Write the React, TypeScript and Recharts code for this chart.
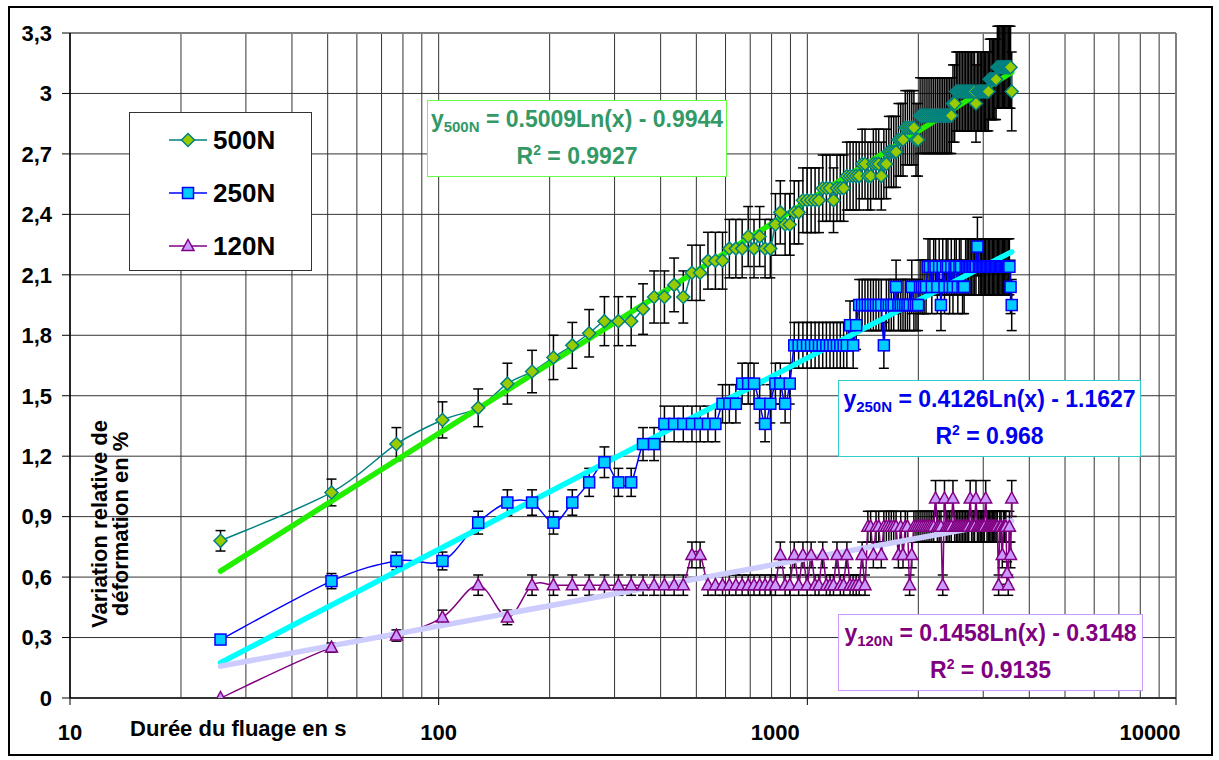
import { CartesianGrid, ErrorBar, Legend, Line, LineChart, ReferenceLine, XAxis, YAxis } from "recharts"

// creep time (s), one reading every 25.6 s
const TIME_S = [
  25.6, 51.2, 76.8, 102.4, 128, 153.6, 179.2, 204.8, 230.4, 256,
  281.6, 307.2, 332.8, 358.4, 384, 409.6, 435.2, 460.8, 486.4, 512,
  537.6, 563.2, 588.8, 614.4, 640, 665.6, 691.2, 716.8, 742.4, 768,
  793.6, 819.2, 844.8, 870.4, 896, 921.6, 947.2, 972.8, 998.4, 1024,
  1049.6, 1075.2, 1100.8, 1126.4, 1152, 1177.6, 1203.2, 1228.8, 1254.4, 1280,
  1305.6, 1331.2, 1356.8, 1382.4, 1408, 1433.6, 1459.2, 1484.8, 1510.4, 1536,
  1561.6, 1587.2, 1612.8, 1638.4, 1664, 1689.6, 1715.2, 1740.8, 1766.4, 1792,
  1817.6, 1843.2, 1868.8, 1894.4, 1920, 1945.6, 1971.2, 1996.8, 2022.4, 2048,
  2073.6, 2099.2, 2124.8, 2150.4, 2176, 2201.6, 2227.2, 2252.8, 2278.4, 2304,
  2329.6, 2355.2, 2380.8, 2406.4, 2432, 2457.6, 2483.2, 2508.8, 2534.4, 2560,
  2585.6, 2611.2, 2636.8, 2662.4, 2688, 2713.6, 2739.2, 2764.8, 2790.4, 2816,
  2841.6, 2867.2, 2892.8, 2918.4, 2944, 2969.6, 2995.2, 3020.8, 3046.4, 3072,
  3097.6, 3123.2, 3148.8, 3174.4, 3200, 3225.6, 3251.2, 3276.8, 3302.4, 3328,
  3353.6, 3379.2, 3404.8, 3430.4, 3456, 3481.6, 3507.2, 3532.8, 3558.4, 3584,
]

const DEF_500N = [
  0.78, 1.02, 1.26, 1.38, 1.44, 1.56, 1.62, 1.69, 1.75, 1.81,
  1.87, 1.87, 1.87, 1.93, 1.99, 1.99, 2.05, 1.99, 2.11, 2.11,
  2.17, 2.17, 2.17, 2.23, 2.23, 2.23, 2.29, 2.23, 2.29, 2.23,
  2.23, 2.35, 2.41, 2.35, 2.35, 2.41, 2.41, 2.47, 2.47, 2.47,
  2.47, 2.47, 2.53, 2.53, 2.53, 2.47, 2.53, 2.53, 2.53, 2.59,
  2.59, 2.59, 2.59, 2.59, 2.65, 2.65, 2.59, 2.59, 2.65, 2.65,
  2.65, 2.59, 2.65, 2.65, 2.71, 2.71, 2.71, 2.71, 2.77, 2.77,
  2.77, 2.83, 2.83, 2.83, 2.83, 2.83, 2.77, 2.77, 2.89, 2.89,
  2.89, 2.89, 2.89, 2.89, 2.89, 2.89, 2.89, 2.89, 2.89, 2.89,
  2.89, 2.89, 2.89, 2.89, 2.89, 2.89, 2.95, 2.95, 3.01, 3.01,
  3.01, 3.01, 3.01, 3.01, 3.01, 3.01, 3.01, 3.01, 3.01, 3.01,
  3.01, 2.95, 3.01, 3.01, 3.01, 3.01, 3.01, 3.01, 3.01, 3.01,
  3.01, 3.07, 3.07, 3.07, 3.07, 3.07, 3.07, 3.13, 3.13, 3.13,
  3.13, 3.13, 3.13, 3.13, 3.13, 3.13, 3.13, 3.13, 3.13, 3.01,
]

const DEF_250N = [
  0.29, 0.58, 0.68, 0.68, 0.87, 0.97, 0.97, 0.87, 0.97, 1.07,
  1.17, 1.07, 1.07, 1.26, 1.26, 1.36, 1.36, 1.36, 1.36, 1.36,
  1.36, 1.36, 1.46, 1.46, 1.46, 1.56, 1.56, 1.56, 1.46, 1.36,
  1.46, 1.56, 1.56, 1.46, 1.56, 1.75, 1.75, 1.75, 1.75, 1.75,
  1.75, 1.75, 1.75, 1.75, 1.75, 1.75, 1.75, 1.75, 1.75, 1.75,
  1.85, 1.75, 1.85, 1.95, 1.95, 1.95, 1.95, 1.95, 1.95, 1.95,
  1.95, 1.95, 1.75, 1.95, 1.95, 1.95, 1.95, 2.04, 1.95, 1.95,
  1.95, 1.95, 1.95, 1.95, 2.04, 1.95, 1.95, 1.95, 2.04, 2.04,
  2.04, 2.04, 2.14, 2.14, 2.04, 2.14, 2.14, 2.04, 2.14, 1.95,
  2.14, 2.04, 2.14, 2.14, 2.04, 2.14, 2.04, 2.14, 2.14, 2.04,
  2.14, 2.14, 2.04, 2.04, 2.14, 2.14, 2.14, 2.14, 2.14, 2.14,
  2.14, 2.14, 2.24, 2.14, 2.14, 2.14, 2.14, 2.14, 2.14, 2.14,
  2.14, 2.14, 2.14, 2.14, 2.14, 2.14, 2.14, 2.14, 2.14, 2.14,
  2.14, 2.14, 2.14, 2.14, 2.14, 2.14, 2.14, 2.14, 2.04, 1.95,
]

const DEF_120N = [
  0, 0.25, 0.31, 0.4, 0.56, 0.4, 0.56, 0.56, 0.56, 0.56,
  0.56, 0.56, 0.56, 0.56, 0.56, 0.56, 0.56, 0.56, 0.71, 0.71,
  0.56, 0.56, 0.56, 0.56, 0.56, 0.56, 0.56, 0.56, 0.56, 0.56,
  0.56, 0.56, 0.71, 0.56, 0.56, 0.71, 0.56, 0.71, 0.56, 0.71,
  0.56, 0.56, 0.71, 0.56, 0.56, 0.56, 0.71, 0.56, 0.56, 0.71,
  0.56, 0.56, 0.56, 0.56, 0.71, 0.56, 0.85, 0.85, 0.71, 0.85,
  0.85, 0.71, 0.85, 0.85, 0.85, 0.85, 0.85, 0.85, 0.71, 0.85,
  0.71, 0.85, 0.85, 0.56, 0.71, 0.85, 0.85, 0.85, 0.85, 0.85,
  0.85, 0.85, 0.85, 0.85, 0.85, 0.85, 0.99, 0.85, 0.85, 0.85,
  0.56, 0.99, 0.85, 0.85, 0.85, 0.85, 0.99, 0.85, 0.85, 0.85,
  0.85, 0.85, 0.85, 0.85, 0.85, 0.85, 0.85, 0.99, 0.85, 0.85,
  0.85, 0.99, 0.85, 0.85, 0.85, 0.85, 0.85, 0.85, 0.99, 0.85,
  0.85, 0.85, 0.85, 0.85, 0.85, 0.85, 0.85, 0.85, 0.56, 0.85,
  0.85, 0.71, 0.85, 0.85, 0.85, 0.62, 0.56, 0.85, 0.71, 0.99,
]

// error bars are a percentage of the value (Excel "percentage" error bars)
const ERR_PCT_500N = 0.065
const ERR_PCT_250N = 0.065
const ERR_PCT_120N = 0.09

// logarithmic trend lines: y = a Ln(x) + b
const TREND_A = [0.5009, 0.4126, 0.1458]
const TREND_B = [-0.9944, -1.1627, -0.3148]
const TREND_R2 = ["0.9927", "0.968", "0.9135"]
const LOADS = ["500N", "250N", "120N"]

const Y_TICKS = [0, 0.3, 0.6, 0.9, 1.2, 1.5, 1.8, 2.1, 2.4, 2.7, 3, 3.3]
const X_TICKS = [10, 100, 1000, 10000]
const X_GRID = [
  10, 20, 30, 40, 50, 60, 70, 80, 90,
  100, 200, 300, 400, 500, 600, 700, 800, 900,
  1000, 2000, 3000, 4000, 5000, 6000, 7000, 8000, 9000, 10000,
]

const FONT = '"Liberation Sans", Arial, Helvetica, sans-serif'

const rows = TIME_S.map((t, i) => ({
  t,
  n500: DEF_500N[i],
  n250: DEF_250N[i],
  n120: DEF_120N[i],
  e500: DEF_500N[i] * ERR_PCT_500N,
  e250: DEF_250N[i] * ERR_PCT_250N,
  e120: DEF_120N[i] * ERR_PCT_120N,
}))

const trendRows = (i: number) =>
  [TIME_S[0], TIME_S[TIME_S.length - 1]].map((t) => ({ t, y: TREND_A[i] * Math.log(t) + TREND_B[i] }))

const STYLE = [
  { key: "n500", err: "e500", line: "#008080", fill: "#99cc00", shape: "diamond", trend: "#22ee00", box: "#66ff44", text: "#339966" },
  { key: "n250", err: "e250", line: "#0000ff", fill: "#00ccff", shape: "square", trend: "#00ffff", box: "#33cccc", text: "#0000ee" },
  { key: "n120", err: "e120", line: "#800080", fill: "#cc99ff", shape: "triangle", trend: "#ccccff", box: "#cc99ff", text: "#800080" },
]

// Excel "smoothed line" ~ uniform Catmull-Rom
function excelSmooth(context: any) {
  let pts: number[][] = []
  return {
    areaStart() {},
    areaEnd() {},
    lineStart() {
      pts = []
    },
    lineEnd() {
      if (!pts.length) return
      context.moveTo(pts[0][0], pts[0][1])
      for (let i = 0; i < pts.length - 1; i++) {
        const p0 = pts[Math.max(i - 1, 0)]
        const p1 = pts[i]
        const p2 = pts[i + 1]
        const p3 = pts[Math.min(i + 2, pts.length - 1)]
        context.bezierCurveTo(
          p1[0] + (p2[0] - p0[0]) / 6,
          p1[1] + (p2[1] - p0[1]) / 6,
          p2[0] - (p3[0] - p1[0]) / 6,
          p2[1] - (p3[1] - p1[1]) / 6,
          p2[0],
          p2[1],
        )
      }
    },
    point(x: number, y: number) {
      pts.push([+x, +y])
    },
  }
}

function marker(shape: string, cx: number, cy: number, fill: string, stroke: string, key?: string) {
  if (shape === "diamond") {
    return <path key={key} d={`M${cx},${cy - 6.5}L${cx + 6.5},${cy}L${cx},${cy + 6.5}L${cx - 6.5},${cy}Z`} fill={fill} stroke={stroke} strokeWidth={1.5} />
  }
  if (shape === "square") {
    return <rect key={key} x={cx - 5.5} y={cy - 5.5} width={11} height={11} fill={fill} stroke={stroke} strokeWidth={1.5} />
  }
  return <path key={key} d={`M${cx},${cy - 6.5}L${cx + 6},${cy + 4.5}L${cx - 6},${cy + 4.5}Z`} fill={fill} stroke={stroke} strokeWidth={1.5} />
}

const dotFor = (s: (typeof STYLE)[number]) => (p: any) => {
  if (p.cx == null || p.cy == null) return <g key={`${s.key}-${p.index}`} />
  return marker(s.shape, p.cx, p.cy, s.fill, s.line, `${s.key}-${p.index}`)
}

const fmtY = (v: number) => v.toFixed(1).replace(".", ",").replace(",0", "")

const X_LABEL_SHIFT: Record<number, number> = { 1000: -32, 10000: -26 }

const XTick = (p: any) => {
  const v = p.payload.value
  return (
    <text x={p.x + (X_LABEL_SHIFT[v] ?? 0)} y={p.y} dy={35} textAnchor="middle" fontFamily={FONT} fontSize={22} fontWeight="bold" fill="#000">
      {v}
    </text>
  )
}

const renderLegend = () => (
  <div style={{ width: 183, height: 159, boxSizing: "border-box", border: "1.5px solid #333", background: "#fff", position: "relative", fontFamily: FONT }}>
    {STYLE.map((s, i) => (
      <div key={s.key} style={{ position: "absolute", left: 39, top: 27 + i * 53 - 15, height: 30, display: "flex", alignItems: "center" }}>
        <svg width={38} height={20}>
          <line x1={0} y1={10} x2={38} y2={10} stroke={s.line} strokeWidth={1.5} />
          {marker(s.shape, 19, 10, s.fill, s.line)}
        </svg>
        <span style={{ marginLeft: 6, fontSize: 26, fontWeight: "bold", lineHeight: "30px", color: "#000" }}>{LOADS[i]}</span>
      </div>
    ))}
  </div>
)

const BOX_POS = [
  { left: 427, top: 100, width: 300 },
  { left: 838, top: 380, width: 303 },
  { left: 838, top: 614, width: 305 },
]

function EqBox({ i }: { i: number }) {
  const s = STYLE[i]
  const pos = BOX_POS[i]
  const eq = `${TREND_A[i].toFixed(4)}Ln(x) - ${Math.abs(TREND_B[i]).toFixed(4)}`
  const line: React.CSSProperties = { position: "absolute", left: 0, right: 0, textAlign: "center", fontSize: 23, lineHeight: "23px", whiteSpace: "nowrap" }
  return (
    <div
      style={{
        position: "absolute",
        left: pos.left,
        top: pos.top,
        width: pos.width,
        height: 77,
        boxSizing: "border-box",
        border: `1.5px solid ${s.box}`,
        background: "#fff",
        color: s.text,
        fontFamily: FONT,
        fontWeight: "bold",
      }}
    >
      <div style={{ ...line, top: 7 }}>
        y<sub style={{ fontSize: 15, verticalAlign: "-5px", lineHeight: 0 }}>{LOADS[i]}</sub> = {eq}
      </div>
      <div style={{ ...line, top: 44 }}>
        R<sup style={{ fontSize: 14, verticalAlign: "9px", lineHeight: 0 }}>2</sup> = {TREND_R2[i]}
      </div>
    </div>
  )
}

export default function App() {
  return (
    <div style={{ position: "absolute", left: 0, top: 0, width: 1219, height: 760, background: "#fff", fontFamily: FONT }}>
      <div style={{ position: "absolute", left: 8, top: 6, width: 1205, height: 750, boxSizing: "border-box", border: "2px solid #000" }} />
      <div style={{ position: "absolute", left: 0, top: 0 }}>
        <LineChart width={1219} height={760} data={rows} margin={{ top: 33, right: 43, bottom: 22, left: 10 }}>
          <CartesianGrid vertical={false} stroke="#333" strokeWidth={1} />
          {X_GRID.map((g) => (
            <ReferenceLine key={g} x={g} stroke={g === 10000 ? "#808080" : "#333"} strokeWidth={g === 10000 ? 2 : 1} ifOverflow="visible" />
          ))}
          <ReferenceLine y={3.3} stroke="#808080" strokeWidth={2} ifOverflow="visible" />
          <XAxis
            dataKey="t"
            type="number"
            scale="log"
            domain={[10, 10000]}
            ticks={X_TICKS}
            allowDataOverflow
            height={40}
            tickSize={7}
            tickMargin={0}
            axisLine={{ stroke: "#333", strokeWidth: 2 }}
            tickLine={{ stroke: "#000" }}
            tick={<XTick />}
          />
          <YAxis
            type="number"
            domain={[0, 3.3]}
            ticks={Y_TICKS}
            allowDataOverflow
            width={60}
            tickSize={8}
            tickMargin={10}
            tickFormatter={fmtY}
            axisLine={{ stroke: "#000", strokeWidth: 1.5 }}
            tickLine={{ stroke: "#000" }}
            tick={{ fontFamily: FONT, fontSize: 22, fontWeight: "bold", fill: "#000" }}
          />
          {STYLE.map((s) => (
            <Line
              key={s.key}
              dataKey={s.key}
              type={excelSmooth as any}
              stroke={s.line}
              strokeWidth={1.5}
              dot={dotFor(s)}
              activeDot={false}
              legendType="none"
              isAnimationActive={false}
            >
              <ErrorBar dataKey={s.err} direction="y" width={5} stroke="#000" strokeWidth={1.5} isAnimationActive={false} />
            </Line>
          ))}
          {STYLE.map((s, i) => (
            <Line
              key={`trend-${s.key}`}
              data={trendRows(i)}
              dataKey="y"
              type="linear"
              stroke={s.trend}
              strokeWidth={5.5}
              strokeLinecap="round"
              dot={false}
              activeDot={false}
              legendType="none"
              isAnimationActive={false}
            />
          ))}
          <Legend layout="vertical" align="center" verticalAlign="middle" content={renderLegend} wrapperStyle={{ left: 129, top: 112, width: 183 }} />
        </LineChart>
      </div>
      {STYLE.map((_, i) => (
        <EqBox key={i} i={i} />
      ))}
      <div style={{ position: "absolute", left: 130, top: 718, fontSize: 22, lineHeight: "22px", fontWeight: "bold", whiteSpace: "nowrap" }}>
        Durée du fluage en s
      </div>
      <div
        style={{
          position: "absolute",
          left: 110,
          top: 524,
          transform: "translate(-50%, -50%) rotate(-90deg)",
          fontSize: 22,
          lineHeight: "21px",
          fontWeight: "bold",
          textAlign: "center",
          whiteSpace: "nowrap",
        }}
      >
        Variation relative de
        <br />
        déformation en %
      </div>
    </div>
  )
}
